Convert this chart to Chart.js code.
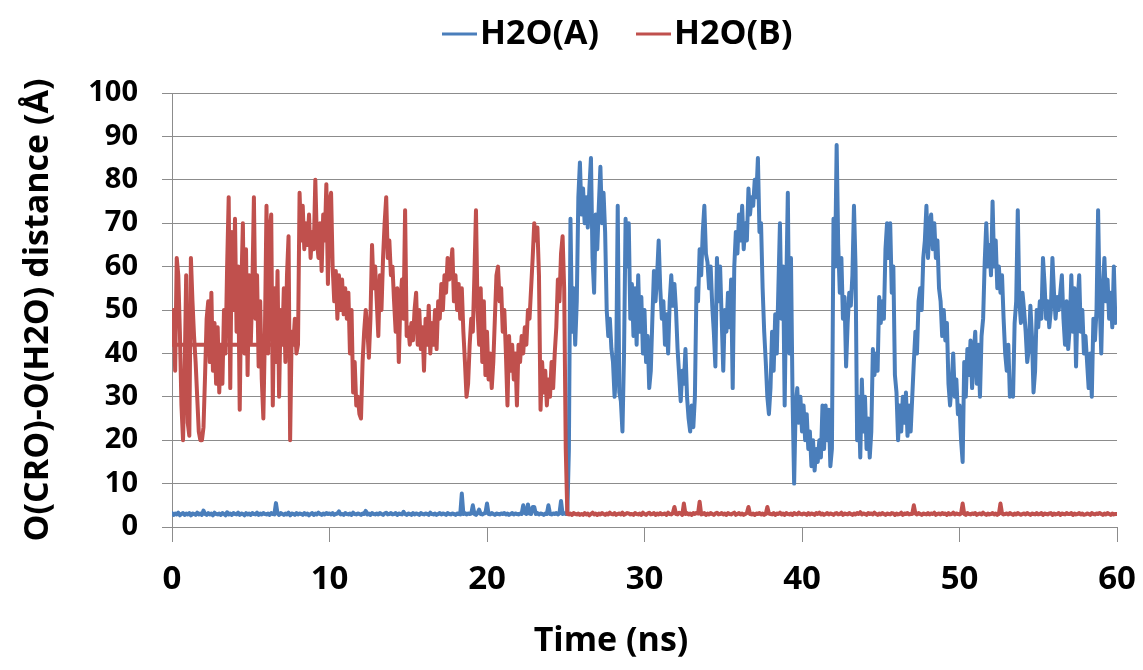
<!DOCTYPE html>
<html><head><meta charset="utf-8">
<script src="https://cdn.jsdelivr.net/npm/chart.js@4.4.1/dist/chart.umd.min.js"></script>
<style>html,body{margin:0;padding:0;background:#fff;}#wrap{width:1143px;height:670px;}</style>
</head><body><div id="wrap"><canvas id="c" width="1143" height="670"></canvas></div>
<script>
const seriesNames = ['H2O(A)', 'H2O(B)'];
const xTitle = 'Time (ns)';
const yTitle = 'O(CRO)-O(H2O) distance (Å)';
const xTicks = [0, 10, 20, 30, 40, 50, 60];
const yTicks = [0, 10, 20, 30, 40, 50, 60, 70, 80, 90, 100];
const sampleStepNs = 0.1; // sampling interval of the trajectory (one value every 0.1 ns, t = 0 ... 60 ns)

// H2O(A) distance, one value per 0.1 ns (rows = 1 ns)
const h2oA = [
3.2,2.8,3.1,2.9,3.3,2.7,3.0,3.2,2.8,3.1,
2.9,3.2,2.7,3.1,3.0,2.8,3.3,2.9,3.1,2.8,
3.8,3.0,2.8,3.2,2.9,3.1,2.7,3.3,3.0,2.9,
3.1,2.8,3.2,3.0,2.7,3.4,2.9,3.1,2.8,3.2,
3.0,2.9,3.3,2.8,3.1,3.0,2.7,3.2,2.9,3.1,
2.8,3.2,3.0,2.9,3.3,2.8,3.1,2.9,3.2,3.0,
2.9,3.1,2.8,3.2,3.0,2.9,5.5,3.1,2.8,3.2,
3.0,2.8,3.1,2.9,3.3,2.7,3.1,3.0,2.8,3.2,
2.9,3.1,3.0,2.8,3.2,2.9,3.1,2.7,3.0,3.2,
2.8,3.1,2.9,3.3,3.0,2.8,3.1,2.9,3.2,3.0,
3.1,2.9,3.2,2.8,3.0,3.1,3.6,2.9,3.0,2.8,
3.2,3.0,2.9,3.1,2.8,3.3,3.0,2.9,3.1,3.0,
2.8,3.1,3.0,3.7,2.9,3.1,2.8,3.2,3.0,2.9,
3.1,2.9,3.2,3.0,2.8,3.1,3.3,2.9,3.0,3.2,
2.9,3.0,3.2,2.8,3.1,3.0,2.9,3.5,3.0,2.8,
3.1,3.0,2.8,3.2,2.9,3.1,3.0,2.8,3.2,3.0,
2.9,3.1,3.0,2.8,3.3,3.0,2.9,3.1,2.8,3.0,
3.2,2.9,3.1,3.0,2.8,3.2,3.0,2.9,3.1,3.0,
2.8,3.1,3.0,2.9,7.7,3.0,3.2,2.9,3.1,3.0,
3.1,5.0,3.0,2.8,3.2,4.0,3.0,2.9,3.1,3.2,
5.4,3.0,2.9,3.2,3.0,2.8,3.1,3.0,2.9,3.1,
3.0,3.2,2.9,3.1,2.8,3.0,3.2,2.9,3.1,3.0,
2.9,3.1,3.0,5.0,3.2,3.0,5.2,3.1,3.0,4.6,
4.6,3.0,3.2,2.9,3.1,3.0,2.8,3.1,3.0,5.0,
3.0,2.9,3.1,3.0,3.2,2.9,3.1,6.0,3.0,3.2,
3.0,3.1,18,71,45,55,42,52,76,84,
72,78,70,76,69,78,85,62,54,72,
64,74,83,70,77,68,50,44,48,41,
38,30,36,74,31,29,22,40,71,60,
70,48,56,44,55,42,58,45,53,40,
50,38,44,32,36,48,59,52,58,66,
55,48,52,42,49,40,52,58,51,56,
50,41,35,29,36,33,41,30,25,22,
28,23,30,55,52,64,58,68,74,63,
61,55,60,51,45,37,62,52,60,48,
36,50,45,54,46,57,32,60,68,63,
72,66,74,64,70,66,78,72,76,74,
80,76,85,68,70,55,45,38,30,26,
32,45,36,49,40,55,70,48,60,28,
55,77,40,62,30,10,28,32,24,30,
22,28,20,26,18,22,14,20,13,18,
15,20,16,28,18,28,20,27,14,18,
71,60,88,65,54,62,48,53,37,47,
54,51,58,74,60,20,30,16,34,22,
30,18,25,16,22,41,35,40,36,53,
47,52,48,64,70,62,70,54,60,35,
31,20,28,22,30,24,31,21,28,22,
30,38,45,40,52,55,50,62,66,74,
62,70,72,64,70,62,66,55,52,44,
50,43,47,33,28,33,40,30,34,26,
28,20,15,38,30,41,35,43,32,40,
45,33,42,30,44,48,61,70,60,65,
58,75,60,66,55,60,54,58,48,40,
36,42,30,33,30,47,52,73,52,47,
54,50,45,38,41,51,44,31,36,50,
46,52,48,62,56,48,52,46,50,62,
54,48,53,50,54,58,48,42,52,41,
46,58,45,55,37,52,58,45,50,40,
44,38,32,40,30,48,43,50,73,52,
40,55,62,52,57,48,54,46,60,47,
50
];

// H2O(B) distance, one value per 0.1 ns (rows = 1 ns)
const h2oB = [
42,50,36,62,58,45,28,20,35,58,
24,21,62,52,44,38,30,22,20,20,
23,35,48,52,38,54,36,47,33,46,
31,42,33,50,40,60,76,32,68,50,
71,45,60,27,55,70,40,64,35,58,
42,55,76,48,58,37,52,34,25,45,
74,40,68,72,28,55,38,59,30,50,
42,55,38,58,67,20,45,42,48,40,
42,77,66,74,64,70,65,72,62,68,
64,80,66,62,70,59,72,66,79,56,
75,77,60,52,59,48,58,50,57,49,
55,48,54,40,50,31,38,28,30,26,
25,38,45,50,46,39,48,65,55,60,
52,44,58,50,62,70,76,62,66,58,
60,52,45,55,38,52,57,48,73,44,
46,42,47,43,50,54,42,50,41,46,
36,48,42,51,40,47,42,50,41,52,
48,56,50,58,54,62,57,60,64,52,
58,50,56,48,55,45,38,30,33,42,
48,45,58,73,50,42,55,38,52,35,
45,34,40,32,38,48,58,60,52,55,
45,50,40,28,44,36,42,34,40,28,
42,38,44,40,46,42,50,48,55,62,
70,66,69,58,27,38,31,36,28,34,
30,38,32,40,46,57,52,63,67,55,
18,3.0,2.9,3.1,2.8,3.2,3.0,2.9,3.1,2.8,
3.0,2.8,3.2,2.9,3.1,2.7,3.0,3.3,2.9,3.1,
2.8,3.1,2.9,3.2,3.0,2.8,3.1,2.9,3.3,3.0,
2.9,3.2,2.8,3.0,3.1,2.9,3.3,2.8,3.0,3.2,
3.1,2.9,3.0,2.8,3.2,3.0,2.9,3.1,2.8,3.3,
3.0,2.8,3.1,3.3,2.9,3.0,3.2,2.8,3.1,2.9,
3.2,2.9,3.0,3.1,2.8,3.3,3.0,2.9,3.2,4.6,
3.0,2.9,3.3,3.1,2.8,5.4,3.0,3.2,2.9,3.1,
2.8,3.2,3.0,3.3,3.1,5.8,2.9,3.0,3.2,2.8,
3.1,2.9,3.2,3.0,2.8,3.1,3.3,2.9,3.0,3.2,
2.9,3.1,2.8,3.2,3.0,2.9,3.1,3.3,2.8,3.0,
3.2,2.9,3.1,2.8,3.0,3.2,4.6,3.0,2.9,3.1,
2.8,3.1,3.0,3.2,2.9,3.1,2.8,3.0,4.6,3.1,
3.0,2.9,3.2,2.8,3.1,3.0,3.3,2.9,3.1,2.8,
3.2,3.0,2.9,3.1,2.8,3.2,3.0,2.9,3.3,3.0,
2.9,3.1,3.0,2.8,3.2,2.9,3.1,3.0,2.8,3.2,
3.0,3.3,2.9,3.1,2.8,3.0,3.2,2.9,3.1,3.0,
2.8,3.1,3.2,2.9,3.0,3.3,2.8,3.1,3.0,2.9,
3.2,3.0,2.8,3.1,2.9,3.2,3.0,3.4,2.9,3.1,
3.0,2.8,3.2,3.0,3.1,2.9,3.3,3.0,2.8,3.1,
2.9,3.2,3.0,2.8,3.1,3.0,2.9,3.2,3.1,2.8,
3.1,2.9,3.0,3.3,2.8,3.1,3.0,3.2,2.9,3.0,
3.0,5.0,3.1,2.9,3.2,3.0,2.8,3.1,3.0,2.9,
3.2,2.9,3.1,3.0,3.3,2.8,3.0,3.1,2.9,3.2,
3.0,3.1,2.8,3.2,2.9,3.0,3.3,2.9,3.1,3.0,
2.9,3.1,5.4,3.0,2.8,3.2,3.0,2.9,3.1,3.0,
3.2,2.8,3.0,3.1,2.9,3.3,3.0,2.8,3.1,2.9,
3.0,3.2,2.9,3.1,2.8,3.0,5.4,3.1,2.9,3.0,
3.1,2.9,3.2,3.0,2.8,3.1,2.9,3.2,3.0,2.8,
3.0,3.1,2.9,3.2,3.0,2.8,3.1,3.0,2.9,3.2,
2.9,3.0,3.2,2.8,3.1,3.0,2.9,3.1,3.2,2.8,
3.1,2.9,3.0,3.2,2.8,3.1,3.0,2.9,3.2,3.0,
3.0,3.2,2.8,3.1,2.9,3.0,3.2,2.9,3.1,2.8,
2.9,3.1,3.0,2.8,3.2,3.0,2.9,3.1,3.0,3.2,
3.0,2.8,3.1,2.9,3.2,3.0,2.8,3.1,2.9,3.0,
3.0
];

// H2O(B) trace begins with a point at 8.0 ns that joins back to t = 0 (flat segment in the original plot)
const h2oBLeadTime = [8.0];
const h2oBLeadValue = [42];

const FONT = "'Open Sans', 'DejaVu Sans', sans-serif";
const BLUE = '#4A7EBB';
const RED = '#C0504D';
const GRID = '#8c8c8c';

function toPoints(values) {
  return values.map((v, i) => ({ x: Math.round(i * sampleStepNs * 10) / 10, y: v }));
}
const pointsA = toPoints(h2oA);
const pointsB = h2oBLeadTime.map((t, i) => ({ x: t, y: h2oBLeadValue[i] })).concat(toPoints(h2oB));

const annotations = {
  id: 'annotations',
  afterDraw(chart) {
    const ctx = chart.ctx;
    ctx.save();
    ctx.font = 'bold 34px ' + FONT;
    ctx.fillStyle = '#000';
    ctx.textBaseline = 'middle';
    ctx.textAlign = 'left';
    const legendY = 34;
    const items = [{ name: seriesNames[0], color: BLUE, x: 442 }, { name: seriesNames[1], color: RED, x: 636 }];
    items.forEach(it => {
      ctx.fillStyle = it.color;
      ctx.fillRect(it.x, legendY - 1.5, 35, 3);
      ctx.fillStyle = '#000';
      ctx.fillText(it.name, it.x + 38, legendY);
    });
    ctx.textAlign = 'center';
    ctx.fillText(xTitle, 611, 641);
    ctx.restore();
  }
};

new Chart(document.getElementById('c'), {
  type: 'line',
  data: {
    datasets: [
      { label: seriesNames[0], data: pointsA, borderColor: BLUE, backgroundColor: BLUE, borderWidth: 4, pointRadius: 0, borderJoinStyle: 'round', borderCapStyle: 'round', tension: 0, order: 1 },
      { label: seriesNames[1], data: pointsB, borderColor: RED, backgroundColor: RED, borderWidth: 4, pointRadius: 0, borderJoinStyle: 'round', borderCapStyle: 'round', tension: 0, order: 0 }
    ]
  },
  options: {
    responsive: false,
    animation: false,
    devicePixelRatio: 1,
    layout: { padding: { top: 93, right: 26, bottom: 0, left: 0 } },
    plugins: { legend: { display: false }, tooltip: { enabled: false }, title: { display: false } },
    scales: {
      x: {
        type: 'linear', min: 0, max: 60,
        afterBuildTicks: s => { s.ticks = xTicks.map(v => ({ value: v })); },
        ticks: { font: { family: FONT, size: 33, weight: 'bold' }, color: '#000', padding: 18, maxRotation: 0, autoSkip: false },
        grid: { drawOnChartArea: false, drawTicks: true, tickLength: 15, color: GRID, lineWidth: 1 },
        border: { display: true, color: GRID, width: 1 },
        afterFit: s => { s.height = 143; s.paddingLeft = 0; s.paddingRight = 0; }
      },
      y: {
        type: 'linear', min: 0, max: 100,
        afterBuildTicks: s => { s.ticks = yTicks.map(v => ({ value: v })); },
        ticks: { font: { family: FONT, size: 29, weight: 'bold' }, color: '#000', padding: 24 },
        grid: { color: GRID, lineWidth: 1, tickLength: 10 },
        border: { display: true, color: GRID, width: 1 },
        title: { display: true, text: yTitle, color: '#000', font: { family: FONT, size: 34, weight: 'bold' }, padding: { top: 18, bottom: 0 } },
        afterFit: s => { s.width = 172; }
      }
    }
  },
  plugins: [annotations]
});
</script>
</body></html>
